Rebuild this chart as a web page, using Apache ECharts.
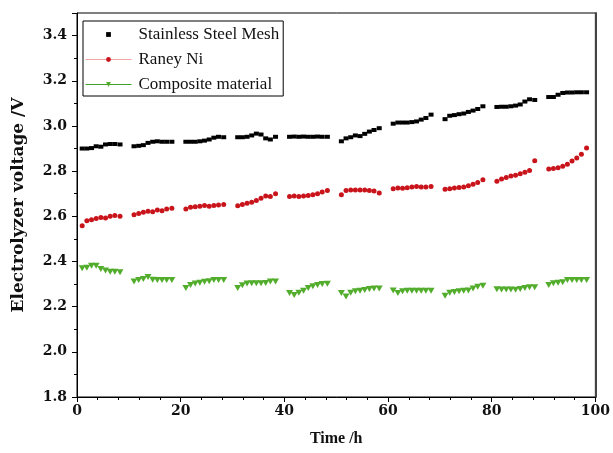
<!DOCTYPE html>
<html>
<head>
<meta charset="utf-8">
<script src="https://cdn.jsdelivr.net/npm/echarts@6/dist/echarts.min.js"></script>
<style>html,body{margin:0;padding:0;background:#fff;}#c{width:613px;height:453px;}</style>
</head>
<body>
<div id="c"></div>
<script>
const seriesNames = ['Stainless Steel Mesh', 'Raney Ni', 'Composite material'];
const xTicks = [0, 20, 40, 60, 80, 100];
const yTicks = [1.8, 2.0, 2.2, 2.4, 2.6, 2.8, 3.0, 3.2, 3.4];

const hours = [
  1.0, 1.9, 2.8, 3.7, 4.6, 5.5, 6.4, 7.3, 8.3,
  11.0, 11.9, 12.8, 13.7, 14.6, 15.5, 16.4, 17.3, 18.3,
  21.0, 21.9, 22.8, 23.7, 24.6, 25.5, 26.4, 27.3, 28.3,
  31.0, 31.9, 32.8, 33.7, 34.6, 35.5, 36.4, 37.3, 38.3,
  41.0, 41.9, 42.8, 43.7, 44.6, 45.5, 46.4, 47.3, 48.3,
  51.0, 51.9, 52.8, 53.7, 54.6, 55.5, 56.4, 57.3, 58.3,
  61.0, 61.9, 62.8, 63.7, 64.6, 65.5, 66.4, 67.3, 68.3,
  71.0, 71.9, 72.8, 73.7, 74.6, 75.5, 76.4, 77.3, 78.3,
  81.0, 81.9, 82.8, 83.7, 84.6, 85.5, 86.4, 87.3, 88.3,
  91.0, 91.9, 92.8, 93.7, 94.6, 95.5, 96.4, 97.3, 98.3
];

const steelMesh = [
  2.900, 2.900, 2.902, 2.910, 2.908, 2.918, 2.920, 2.920, 2.918,
  2.910, 2.912, 2.915, 2.925, 2.930, 2.932, 2.930, 2.930, 2.930,
  2.930, 2.930, 2.930, 2.932, 2.935, 2.940, 2.948, 2.952, 2.950,
  2.950, 2.950, 2.952, 2.958, 2.966, 2.962, 2.945, 2.940, 2.952,
  2.952, 2.953, 2.952, 2.953, 2.952, 2.952, 2.953, 2.952, 2.952,
  2.932, 2.945, 2.950, 2.958, 2.955, 2.965, 2.975, 2.982, 2.990,
  3.010, 3.015, 3.015, 3.015, 3.017, 3.020, 3.028, 3.035, 3.050,
  3.030, 3.045, 3.048, 3.052, 3.055, 3.062, 3.068, 3.075, 3.087,
  3.084, 3.085, 3.085, 3.087, 3.090, 3.095, 3.108, 3.118, 3.115,
  3.128, 3.128, 3.138, 3.146, 3.148, 3.148, 3.149, 3.149, 3.149
];

const raneyNi = [
  2.558, 2.580, 2.585, 2.590, 2.595, 2.592, 2.600, 2.603, 2.600,
  2.607, 2.612, 2.618, 2.622, 2.620, 2.628, 2.625, 2.632, 2.636,
  2.632, 2.640, 2.642, 2.645, 2.648, 2.644, 2.648, 2.650, 2.652,
  2.647, 2.652, 2.658, 2.662, 2.670, 2.680, 2.690, 2.688, 2.700,
  2.688, 2.690, 2.688, 2.690, 2.692, 2.695, 2.700, 2.708, 2.714,
  2.695, 2.714, 2.716, 2.716, 2.716, 2.716, 2.714, 2.712, 2.703,
  2.722, 2.725, 2.724, 2.726, 2.730, 2.732, 2.730, 2.730, 2.732,
  2.720, 2.722, 2.725, 2.728, 2.730, 2.735, 2.742, 2.750, 2.762,
  2.755, 2.765, 2.772, 2.778, 2.782, 2.788, 2.795, 2.803, 2.846,
  2.809, 2.812, 2.815, 2.822, 2.830, 2.845, 2.858, 2.875, 2.902
];

const composite = [
  2.370, 2.372, 2.381, 2.381, 2.367, 2.360, 2.355, 2.355, 2.352,
  2.311, 2.318, 2.322, 2.331, 2.319, 2.318, 2.318, 2.318, 2.318,
  2.282, 2.296, 2.302, 2.306, 2.310, 2.312, 2.318, 2.318, 2.318,
  2.282, 2.295, 2.302, 2.304, 2.304, 2.304, 2.305, 2.311, 2.311,
  2.260, 2.252, 2.262, 2.270, 2.282, 2.290, 2.296, 2.300, 2.301,
  2.260, 2.245, 2.262, 2.268, 2.270, 2.274, 2.278, 2.280, 2.280,
  2.271, 2.260, 2.268, 2.270, 2.270, 2.270, 2.270, 2.270, 2.270,
  2.248, 2.262, 2.265, 2.268, 2.270, 2.272, 2.280, 2.288, 2.292,
  2.277, 2.276, 2.276, 2.276, 2.275, 2.278, 2.282, 2.286, 2.286,
  2.296, 2.304, 2.306, 2.308, 2.318, 2.318, 2.318, 2.318, 2.318
];

function pairs(vals) { return hours.map((h, i) => [h, vals[i]]); }

const serif = 'Liberation Serif, Times New Roman, serif';
const tickFont = 'DejaVu Serif, serif';

const chart = echarts.init(document.getElementById('c'), null, {renderer: 'canvas'});
chart.setOption({
  animation: false,
  backgroundColor: '#fff',
  grid: {left: 77, right: 17, top: 13, bottom: 56, show: true, borderColor: '#000', borderWidth: 1},
  legend: {
    orient: 'vertical', left: 83, top: 21,
    padding: [5, 4, 3, 2],
    borderColor: '#000', borderWidth: 1, backgroundColor: '#fff',
    itemWidth: 46, itemHeight: 6, itemGap: 8,
    textStyle: {fontFamily: serif, fontSize: 17, color: '#111', lineHeight: 16, padding: [0,0,0,2]},
    data: [
      {name: seriesNames[0], lineStyle: {width: 0, opacity: 0}},
      {name: seriesNames[1], lineStyle: {width: 1, color: '#f2a3a3', opacity: 1}},
      {name: seriesNames[2], lineStyle: {width: 1, color: '#3f9f2a', opacity: 1}}
    ]
  },
  xAxis: {
    type: 'value', min: xTicks[0], max: xTicks[xTicks.length - 1], interval: 20,
    name: 'Time /h', nameLocation: 'middle', nameGap: 34,
    nameTextStyle: {fontFamily: serif, fontWeight: 'bold', fontSize: 16, color: '#111'},
    axisLine: {lineStyle: {color: '#000', width: 1}},
    axisTick: {show: true, inside: false, length: 5, lineStyle: {color: '#000'}},
    minorTick: {show: true, splitNumber: 5, length: 3, lineStyle: {color: '#000'}},
    splitLine: {show: false},
    axisLabel: {fontFamily: tickFont, fontWeight: 'bold', fontSize: 14, color: '#111', margin: 7}
  },
  yAxis: [{
    type: 'value', min: yTicks[0], max: 3.5, interval: 0.2,
    name: 'Electrolyzer voltage /V', nameLocation: 'middle', nameGap: 50,
    nameTextStyle: {fontFamily: tickFont, fontWeight: 'bold', fontSize: 17, color: '#111'},
    axisLine: {lineStyle: {color: '#000', width: 1}},
    axisTick: {show: true, inside: false, length: 5, lineStyle: {color: '#000'}},
    minorTick: {show: true, splitNumber: 2, length: 3, lineStyle: {color: '#000'}},
    splitLine: {show: false},
    axisLabel: {fontFamily: tickFont, fontWeight: 'bold', fontSize: 14, color: '#111', margin: 10,
      showMaxLabel: false, formatter: v => v.toFixed(1)}
  }, {
    type: 'value', position: 'right', min: yTicks[0], max: 3.5,
    axisLine: {show: true, lineStyle: {color: '#444', width: 2}},
    axisTick: {show: false}, axisLabel: {show: false}, splitLine: {show: false}
  }],
  series: [
    {
      name: seriesNames[0], type: 'line', data: pairs(steelMesh),
      symbol: 'rect', symbolSize: [5, 4], showAllSymbol: true,
      itemStyle: {color: '#000'}, lineStyle: {opacity: 0, width: 1}
    },
    {
      name: seriesNames[1], type: 'line', data: pairs(raneyNi),
      symbol: 'circle', symbolSize: 5, showAllSymbol: true,
      itemStyle: {color: '#c8141a'}, lineStyle: {opacity: 0, width: 1}
    },
    {
      name: seriesNames[2], type: 'line', data: pairs(composite),
      symbol: 'triangle', symbolRotate: 180, symbolSize: [7, 6], showAllSymbol: true,
      itemStyle: {color: '#52ad2c'}, lineStyle: {opacity: 0, width: 1}
    }
  ]
});
</script>
</body>
</html>
